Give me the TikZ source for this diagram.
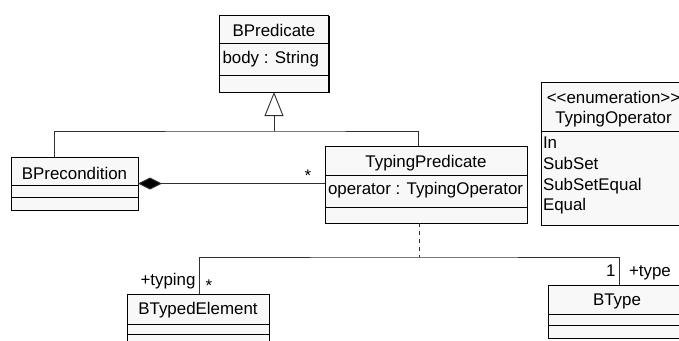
\documentclass[tikz,border=0pt]{standalone}
\usepackage{fontspec}
\setmainfont{Liberation Sans}
\usetikzlibrary{arrows.meta,shadows,calc}
\definecolor{boxfill}{HTML}{F8F8F8}
\definecolor{linecol}{HTML}{303030}
\newcommand\umlfont{\fontsize{16.9}{19}\selectfont}
\newcommand\compline[2]{\draw[line width=1pt] ([yshift=-#2pt]#1.north west) -- ([yshift=-#2pt]#1.north east);}
\tikzset{
  umlbox/.style={draw=black, fill=boxfill, line width=1pt, inner sep=0pt, outer sep=0pt,
    drop shadow={shadow xshift=1.2pt, shadow yshift=-1.2pt, opacity=1, fill=black}},
  lbl/.style={inner sep=0pt, outer sep=0pt, font=\umlfont, anchor=base},
  lblw/.style={lbl, anchor=base west},
  lble/.style={lbl, anchor=base east},
  conn/.style={line width=0.9pt, draw=linecol},
}
\begin{document}
\begin{tikzpicture}[x=1pt, y=-1pt]
\useasboundingbox (0,0) rectangle (679,340);
\clip (0,0) rectangle (679,340);

% ---------- boxes ----------
\node[umlbox, minimum width=109pt, minimum height=77pt] (bp) at (274,53.5) {};
\compline{bp}{28}\compline{bp}{60}
\node[lbl] at ($(bp.north)+(0,21.7)$) {BPredicate};
\node[lblw] at ($(bp.north west)+(3,48.3)$) {body : String};

\node[umlbox, minimum width=127pt, minimum height=53pt] (prec) at (74.5,183.5) {};
\compline{prec}{28}\compline{prec}{40}
\node[lbl] at ($(prec.north)+(0,22.3)$) {BPrecondition};

\node[umlbox, minimum width=202pt, minimum height=77pt] (tp) at (426,184.5) {};
\compline{tp}{29}\compline{tp}{61}
\node[lbl] at ($(tp.north)+(0,21)$) {TypingPredicate};
\node[lblw] at ($(tp.north west)+(3,48)$) {operator : TypingOperator};

\node[umlbox, minimum width=145pt, minimum height=143pt] (en) at (613.5,153.5) {};
\compline{en}{49}
\node[lbl] at ($(en.north)+(0,21)$) {\textless{}\textless{}enumeration\textgreater{}\textgreater};
\node[lbl] at ($(en.north)+(0,41.3)$) {TypingOperator};
\node[lblw] at ($(en.north west)+(2,66.3)$) {In};
\node[lblw] at ($(en.north west)+(2,87.3)$) {SubSet};
\node[lblw] at ($(en.north west)+(2,108)$) {SubSetEqual};
\node[lblw] at ($(en.north west)+(2,128.5)$) {Equal};

\node[umlbox, minimum width=142pt, minimum height=54pt] (te) at (198,321) {};
\compline{te}{30}\compline{te}{40}
\node[lbl] at ($(te.north)+(0,20)$) {BTypedElement};

\node[umlbox, minimum width=138pt, minimum height=53pt] (bt) at (617,311.5) {};
\compline{bt}{29}\compline{bt}{40}
\node[lbl] at ($(bt.north)+(0,20)$) {BType};

% ---------- generalization ----------
\coordinate (gj) at (274,131);
\draw[conn] ([xshift=-20.5pt]prec.north) |- (gj) -| ([xshift=-8pt]tp.north);
\draw[conn, -{Triangle[open, length=24pt, width=19pt, line width=0.9pt]}] (gj) -- (bp.south);

% ---------- composition ----------
\draw[conn, {Diamond[length=24pt, width=12pt, fill=black]}-] (prec.east) -- (tp.west |- prec.east);
\node[lbl] at (308,181) {*};

% ---------- association with class ----------
\coordinate (aj) at (419,257);
\draw[conn] (te.north) ++(1,0) |- (aj) -| ([xshift=2pt]bt.north);
\draw[conn, dash pattern=on 4pt off 4pt] ([xshift=-7pt]tp.south) -- (aj);
\node[lble] at (195.5,285.7) {+typing};
\node[lbl] at (209,291) {*};
\node[lble] at (615.5,276.7) {1};
\node[lblw] at (629,276.7) {+type};
\end{tikzpicture}
\end{document}
